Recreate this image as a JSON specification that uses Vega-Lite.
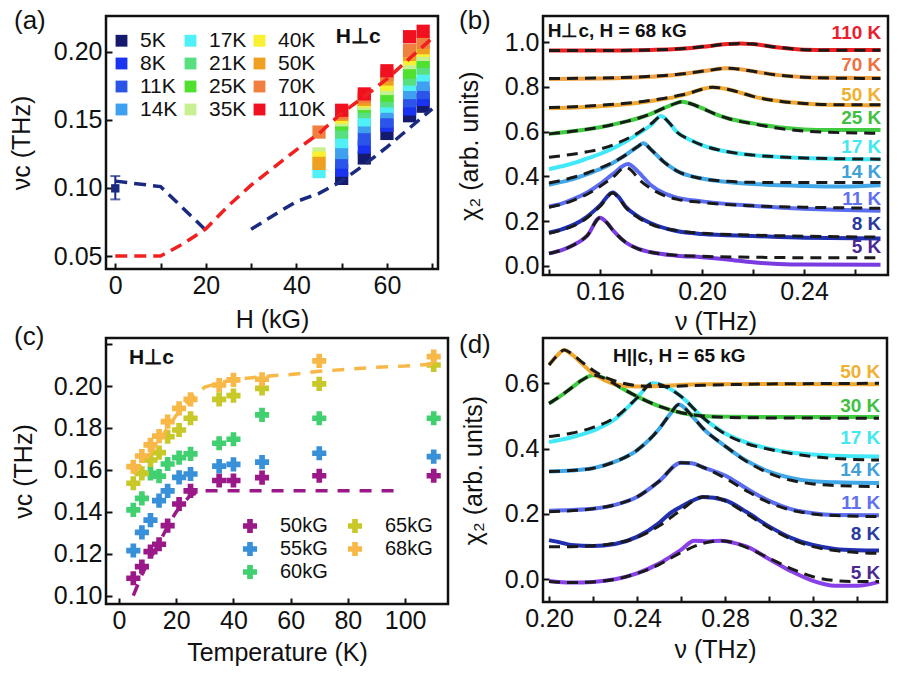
{
"$schema":"https://vega.github.io/schema/vega-lite/v6.json",
"background":"white",
"padding":{"left":8,"top":6,"right":5,"bottom":5},
"config":{
 "font":"Liberation Sans",
 "view":{"stroke":"#111","strokeWidth":2.5},
 "axis":{"domain":false,"grid":false,"labelFontSize":25,"titleFontSize":25,"titleFontWeight":"normal","labelColor":"#111","titleColor":"#111","tickColor":"#111","tickWidth":2,"tickSize":6,"offset":-6,"labelPadding":4,"labelFlush":false,"labelOverlap":false,"zindex":1},
 "axisX":{"titlePadding":9},
 "axisY":{"titlePadding":19},
 "legend":{"labelFontSize":21,"labelColor":"#111","symbolStrokeWidth":0},
 "title":{"fontSize":26,"fontWeight":"normal","anchor":"start","frame":"group","offset":0,"baseline":"alphabetic","color":"#111"}
},
"datasets":{
 "a_sq":[
  {"H":45,"T":"17K","v":0.112},{"H":45,"T":"35K","v":0.125},{"H":45,"T":"40K","v":0.122},{"H":45,"T":"50K","v":0.118},{"H":45,"T":"70K","v":0.141},
  {"H":50,"T":"5K","v":0.107},{"H":50,"T":"8K","v":0.113},{"H":50,"T":"11K","v":0.119},{"H":50,"T":"14K","v":0.126},{"H":50,"T":"17K","v":0.134},{"H":50,"T":"21K","v":0.141},{"H":50,"T":"25K","v":0.147},{"H":50,"T":"35K","v":0.150},{"H":50,"T":"40K","v":0.152},{"H":50,"T":"50K","v":0.154},{"H":50,"T":"70K","v":0.155},{"H":50,"T":"110K","v":0.157},
  {"H":55,"T":"5K","v":0.122},{"H":55,"T":"8K","v":0.130},{"H":55,"T":"11K","v":0.136},{"H":55,"T":"14K","v":0.145},{"H":55,"T":"17K","v":0.150},{"H":55,"T":"21K","v":0.156},{"H":55,"T":"25K","v":0.160},{"H":55,"T":"35K","v":0.162},{"H":55,"T":"40K","v":0.164},{"H":55,"T":"50K","v":0.165},{"H":55,"T":"70K","v":0.167},{"H":55,"T":"110K","v":0.169},
  {"H":60,"T":"5K","v":0.140},{"H":60,"T":"8K","v":0.146},{"H":60,"T":"11K","v":0.149},{"H":60,"T":"14K","v":0.156},{"H":60,"T":"17K","v":0.160},{"H":60,"T":"21K","v":0.164},{"H":60,"T":"25K","v":0.168},{"H":60,"T":"35K","v":0.173},{"H":60,"T":"40K","v":0.176},{"H":60,"T":"50K","v":0.180},{"H":60,"T":"70K","v":0.183},{"H":60,"T":"110K","v":0.186},
  {"H":65,"T":"5K","v":0.153},{"H":65,"T":"8K","v":0.158},{"H":65,"T":"11K","v":0.164},{"H":65,"T":"14K","v":0.170},{"H":65,"T":"17K","v":0.176},{"H":65,"T":"21K","v":0.180},{"H":65,"T":"25K","v":0.185},{"H":65,"T":"35K","v":0.192},{"H":65,"T":"40K","v":0.195},{"H":65,"T":"50K","v":0.198},{"H":65,"T":"70K","v":0.201},{"H":65,"T":"110K","v":0.211},
  {"H":68,"T":"5K","v":0.160},{"H":68,"T":"8K","v":0.165},{"H":68,"T":"11K","v":0.170},{"H":68,"T":"14K","v":0.176},{"H":68,"T":"17K","v":0.183},{"H":68,"T":"21K","v":0.188},{"H":68,"T":"25K","v":0.193},{"H":68,"T":"35K","v":0.198},{"H":68,"T":"40K","v":0.201},{"H":68,"T":"50K","v":0.203},{"H":68,"T":"70K","v":0.207},{"H":68,"T":"110K","v":0.215}
 ],
 "a_lines":[
  {"line":"red","H":0,"v":0.05},{"line":"red","H":10,"v":0.05},{"line":"red","H":15,"v":0.059},{"line":"red","H":20,"v":0.070},{"line":"red","H":25,"v":0.087},{"line":"red","H":30,"v":0.102},{"line":"red","H":35,"v":0.115},{"line":"red","H":40,"v":0.128},{"line":"red","H":45,"v":0.140},{"line":"red","H":50,"v":0.155},{"line":"red","H":55,"v":0.167},{"line":"red","H":60,"v":0.180},{"line":"red","H":65,"v":0.195},{"line":"red","H":70,"v":0.210},
  {"line":"navy1","H":0,"v":0.105},{"line":"navy1","H":10,"v":0.101},{"line":"navy1","H":20,"v":0.069},
  {"line":"navy2","H":30,"v":0.0696},{"line":"navy2","H":35,"v":0.080},{"line":"navy2","H":40,"v":0.090},{"line":"navy2","H":45,"v":0.096},{"line":"navy2","H":50,"v":0.105},{"line":"navy2","H":55,"v":0.117},{"line":"navy2","H":60,"v":0.130},{"line":"navy2","H":65,"v":0.144},{"line":"navy2","H":70,"v":0.158}
 ],
 "a_err":[{"H":0,"v":0.0997,"lo":0.0916,"hi":0.1087}],
 "b_lines":[
  {"T":"5 K","k":"f","nu":0.14,"y":0.055},{"T":"5 K","k":"f","nu":0.145,"y":0.07},{"T":"5 K","k":"f","nu":0.15,"y":0.095},{"T":"5 K","k":"f","nu":0.155,"y":0.135},{"T":"5 K","k":"f","nu":0.16,"y":0.215},{"T":"5 K","k":"f","nu":0.1625,"y":0.195},{"T":"5 K","k":"f","nu":0.165,"y":0.16},{"T":"5 K","k":"f","nu":0.17,"y":0.105},{"T":"5 K","k":"f","nu":0.175,"y":0.075},{"T":"5 K","k":"f","nu":0.18,"y":0.06},{"T":"5 K","k":"f","nu":0.19,"y":0.047},{"T":"5 K","k":"f","nu":0.20,"y":0.042},{"T":"5 K","k":"f","nu":0.22,"y":0.038},{"T":"5 K","k":"f","nu":0.24,"y":0.036},{"T":"5 K","k":"f","nu":0.27,"y":0.036},
  {"T":"5 K","k":"d","nu":0.14,"y":0.055},{"T":"5 K","k":"d","nu":0.145,"y":0.07},{"T":"5 K","k":"d","nu":0.15,"y":0.095},{"T":"5 K","k":"d","nu":0.155,"y":0.135},{"T":"5 K","k":"d","nu":0.16,"y":0.215},{"T":"5 K","k":"d","nu":0.1625,"y":0.195},{"T":"5 K","k":"d","nu":0.165,"y":0.16},{"T":"5 K","k":"d","nu":0.17,"y":0.105},{"T":"5 K","k":"d","nu":0.175,"y":0.075},{"T":"5 K","k":"d","nu":0.18,"y":0.06},{"T":"5 K","k":"d","nu":0.19,"y":0.045},{"T":"5 K","k":"d","nu":0.20,"y":0.038},{"T":"5 K","k":"d","nu":0.21,"y":0.028},{"T":"5 K","k":"d","nu":0.22,"y":0.015},{"T":"5 K","k":"d","nu":0.23,"y":0.008},{"T":"5 K","k":"d","nu":0.24,"y":0.005},{"T":"5 K","k":"d","nu":0.27,"y":0.004},
  {"T":"8 K","k":"f","nu":0.14,"y":0.145},{"T":"8 K","k":"f","nu":0.145,"y":0.16},{"T":"8 K","k":"f","nu":0.15,"y":0.18},{"T":"8 K","k":"f","nu":0.155,"y":0.215},{"T":"8 K","k":"f","nu":0.16,"y":0.265},{"T":"8 K","k":"f","nu":0.165,"y":0.325},{"T":"8 K","k":"f","nu":0.1675,"y":0.3},{"T":"8 K","k":"f","nu":0.17,"y":0.262},{"T":"8 K","k":"f","nu":0.175,"y":0.215},{"T":"8 K","k":"f","nu":0.18,"y":0.185},{"T":"8 K","k":"f","nu":0.19,"y":0.157},{"T":"8 K","k":"f","nu":0.20,"y":0.145},{"T":"8 K","k":"f","nu":0.22,"y":0.137},{"T":"8 K","k":"f","nu":0.24,"y":0.132},{"T":"8 K","k":"f","nu":0.27,"y":0.128},
  {"T":"8 K","k":"d","nu":0.14,"y":0.148},{"T":"8 K","k":"d","nu":0.145,"y":0.163},{"T":"8 K","k":"d","nu":0.15,"y":0.185},{"T":"8 K","k":"d","nu":0.155,"y":0.22},{"T":"8 K","k":"d","nu":0.16,"y":0.27},{"T":"8 K","k":"d","nu":0.165,"y":0.328},{"T":"8 K","k":"d","nu":0.1675,"y":0.305},{"T":"8 K","k":"d","nu":0.17,"y":0.265},{"T":"8 K","k":"d","nu":0.175,"y":0.22},{"T":"8 K","k":"d","nu":0.18,"y":0.19},{"T":"8 K","k":"d","nu":0.19,"y":0.155},{"T":"8 K","k":"d","nu":0.20,"y":0.142},{"T":"8 K","k":"d","nu":0.22,"y":0.133},{"T":"8 K","k":"d","nu":0.24,"y":0.125},{"T":"8 K","k":"d","nu":0.27,"y":0.122},
  {"T":"11 K","k":"f","nu":0.14,"y":0.262},{"T":"11 K","k":"f","nu":0.145,"y":0.275},{"T":"11 K","k":"f","nu":0.15,"y":0.295},{"T":"11 K","k":"f","nu":0.155,"y":0.32},{"T":"11 K","k":"f","nu":0.16,"y":0.355},{"T":"11 K","k":"f","nu":0.165,"y":0.395},{"T":"11 K","k":"f","nu":0.17,"y":0.44},{"T":"11 K","k":"f","nu":0.1725,"y":0.425},{"T":"11 K","k":"f","nu":0.175,"y":0.39},{"T":"11 K","k":"f","nu":0.18,"y":0.345},{"T":"11 K","k":"f","nu":0.185,"y":0.315},{"T":"11 K","k":"f","nu":0.19,"y":0.298},{"T":"11 K","k":"f","nu":0.20,"y":0.283},{"T":"11 K","k":"f","nu":0.22,"y":0.268},{"T":"11 K","k":"f","nu":0.24,"y":0.262},{"T":"11 K","k":"f","nu":0.27,"y":0.257},
  {"T":"11 K","k":"d","nu":0.14,"y":0.265},{"T":"11 K","k":"d","nu":0.145,"y":0.278},{"T":"11 K","k":"d","nu":0.15,"y":0.3},{"T":"11 K","k":"d","nu":0.155,"y":0.328},{"T":"11 K","k":"d","nu":0.16,"y":0.365},{"T":"11 K","k":"d","nu":0.165,"y":0.41},{"T":"11 K","k":"d","nu":0.171,"y":0.455},{"T":"11 K","k":"d","nu":0.175,"y":0.42},{"T":"11 K","k":"d","nu":0.18,"y":0.36},{"T":"11 K","k":"d","nu":0.185,"y":0.325},{"T":"11 K","k":"d","nu":0.19,"y":0.305},{"T":"11 K","k":"d","nu":0.20,"y":0.288},{"T":"11 K","k":"d","nu":0.22,"y":0.268},{"T":"11 K","k":"d","nu":0.24,"y":0.255},{"T":"11 K","k":"d","nu":0.27,"y":0.246},
  {"T":"14 K","k":"f","nu":0.14,"y":0.37},{"T":"14 K","k":"f","nu":0.145,"y":0.382},{"T":"14 K","k":"f","nu":0.15,"y":0.397},{"T":"14 K","k":"f","nu":0.155,"y":0.415},{"T":"14 K","k":"f","nu":0.16,"y":0.437},{"T":"14 K","k":"f","nu":0.165,"y":0.462},{"T":"14 K","k":"f","nu":0.17,"y":0.495},{"T":"14 K","k":"f","nu":0.175,"y":0.535},{"T":"14 K","k":"f","nu":0.177,"y":0.548},{"T":"14 K","k":"f","nu":0.18,"y":0.52},{"T":"14 K","k":"f","nu":0.185,"y":0.465},{"T":"14 K","k":"f","nu":0.19,"y":0.425},{"T":"14 K","k":"f","nu":0.20,"y":0.39},{"T":"14 K","k":"f","nu":0.21,"y":0.378},{"T":"14 K","k":"f","nu":0.22,"y":0.373},{"T":"14 K","k":"f","nu":0.24,"y":0.372},{"T":"14 K","k":"f","nu":0.27,"y":0.372},
  {"T":"14 K","k":"d","nu":0.14,"y":0.362},{"T":"14 K","k":"d","nu":0.145,"y":0.375},{"T":"14 K","k":"d","nu":0.15,"y":0.39},{"T":"14 K","k":"d","nu":0.155,"y":0.41},{"T":"14 K","k":"d","nu":0.16,"y":0.432},{"T":"14 K","k":"d","nu":0.165,"y":0.46},{"T":"14 K","k":"d","nu":0.17,"y":0.495},{"T":"14 K","k":"d","nu":0.175,"y":0.535},{"T":"14 K","k":"d","nu":0.177,"y":0.548},{"T":"14 K","k":"d","nu":0.18,"y":0.52},{"T":"14 K","k":"d","nu":0.185,"y":0.465},{"T":"14 K","k":"d","nu":0.19,"y":0.425},{"T":"14 K","k":"d","nu":0.20,"y":0.39},{"T":"14 K","k":"d","nu":0.21,"y":0.375},{"T":"14 K","k":"d","nu":0.22,"y":0.366},{"T":"14 K","k":"d","nu":0.24,"y":0.357},{"T":"14 K","k":"d","nu":0.255,"y":0.354},{"T":"14 K","k":"d","nu":0.27,"y":0.36},
  {"T":"17 K","k":"f","nu":0.14,"y":0.485},{"T":"17 K","k":"f","nu":0.145,"y":0.492},{"T":"17 K","k":"f","nu":0.15,"y":0.5},{"T":"17 K","k":"f","nu":0.155,"y":0.51},{"T":"17 K","k":"f","nu":0.16,"y":0.522},{"T":"17 K","k":"f","nu":0.165,"y":0.54},{"T":"17 K","k":"f","nu":0.17,"y":0.565},{"T":"17 K","k":"f","nu":0.175,"y":0.595},{"T":"17 K","k":"f","nu":0.18,"y":0.635},{"T":"17 K","k":"f","nu":0.184,"y":0.668},{"T":"17 K","k":"f","nu":0.1875,"y":0.635},{"T":"17 K","k":"f","nu":0.19,"y":0.6},{"T":"17 K","k":"f","nu":0.195,"y":0.565},{"T":"17 K","k":"f","nu":0.20,"y":0.54},{"T":"17 K","k":"f","nu":0.21,"y":0.51},{"T":"17 K","k":"f","nu":0.22,"y":0.495},{"T":"17 K","k":"f","nu":0.23,"y":0.487},{"T":"17 K","k":"f","nu":0.24,"y":0.482},{"T":"17 K","k":"f","nu":0.27,"y":0.477},
  {"T":"17 K","k":"d","nu":0.14,"y":0.432},{"T":"17 K","k":"d","nu":0.145,"y":0.445},{"T":"17 K","k":"d","nu":0.15,"y":0.46},{"T":"17 K","k":"d","nu":0.155,"y":0.48},{"T":"17 K","k":"d","nu":0.16,"y":0.5},{"T":"17 K","k":"d","nu":0.165,"y":0.525},{"T":"17 K","k":"d","nu":0.17,"y":0.555},{"T":"17 K","k":"d","nu":0.175,"y":0.59},{"T":"17 K","k":"d","nu":0.18,"y":0.63},{"T":"17 K","k":"d","nu":0.184,"y":0.67},{"T":"17 K","k":"d","nu":0.1875,"y":0.635},{"T":"17 K","k":"d","nu":0.19,"y":0.6},{"T":"17 K","k":"d","nu":0.195,"y":0.565},{"T":"17 K","k":"d","nu":0.20,"y":0.54},{"T":"17 K","k":"d","nu":0.21,"y":0.51},{"T":"17 K","k":"d","nu":0.22,"y":0.495},{"T":"17 K","k":"d","nu":0.23,"y":0.487},{"T":"17 K","k":"d","nu":0.24,"y":0.482},{"T":"17 K","k":"d","nu":0.27,"y":0.476},
  {"T":"25 K","k":"f","nu":0.14,"y":0.59},{"T":"25 K","k":"f","nu":0.15,"y":0.603},{"T":"25 K","k":"f","nu":0.16,"y":0.62},{"T":"25 K","k":"f","nu":0.17,"y":0.645},{"T":"25 K","k":"f","nu":0.175,"y":0.66},{"T":"25 K","k":"f","nu":0.18,"y":0.68},{"T":"25 K","k":"f","nu":0.185,"y":0.705},{"T":"25 K","k":"f","nu":0.19,"y":0.728},{"T":"25 K","k":"f","nu":0.192,"y":0.734},{"T":"25 K","k":"f","nu":0.195,"y":0.727},{"T":"25 K","k":"f","nu":0.20,"y":0.705},{"T":"25 K","k":"f","nu":0.205,"y":0.68},{"T":"25 K","k":"f","nu":0.21,"y":0.66},{"T":"25 K","k":"f","nu":0.22,"y":0.635},{"T":"25 K","k":"f","nu":0.23,"y":0.615},{"T":"25 K","k":"f","nu":0.24,"y":0.603},{"T":"25 K","k":"f","nu":0.25,"y":0.597},{"T":"25 K","k":"f","nu":0.27,"y":0.593},
  {"T":"25 K","k":"d","nu":0.14,"y":0.59},{"T":"25 K","k":"d","nu":0.15,"y":0.603},{"T":"25 K","k":"d","nu":0.16,"y":0.62},{"T":"25 K","k":"d","nu":0.17,"y":0.645},{"T":"25 K","k":"d","nu":0.175,"y":0.66},{"T":"25 K","k":"d","nu":0.18,"y":0.68},{"T":"25 K","k":"d","nu":0.185,"y":0.705},{"T":"25 K","k":"d","nu":0.19,"y":0.728},{"T":"25 K","k":"d","nu":0.192,"y":0.734},{"T":"25 K","k":"d","nu":0.195,"y":0.727},{"T":"25 K","k":"d","nu":0.20,"y":0.705},{"T":"25 K","k":"d","nu":0.205,"y":0.68},{"T":"25 K","k":"d","nu":0.21,"y":0.66},{"T":"25 K","k":"d","nu":0.22,"y":0.637},{"T":"25 K","k":"d","nu":0.23,"y":0.62},{"T":"25 K","k":"d","nu":0.24,"y":0.61},{"T":"25 K","k":"d","nu":0.25,"y":0.607},{"T":"25 K","k":"d","nu":0.27,"y":0.607},
  {"T":"50 K","k":"f","nu":0.14,"y":0.708},{"T":"50 K","k":"f","nu":0.15,"y":0.712},{"T":"50 K","k":"f","nu":0.16,"y":0.718},{"T":"50 K","k":"f","nu":0.17,"y":0.727},{"T":"50 K","k":"f","nu":0.18,"y":0.74},{"T":"50 K","k":"f","nu":0.19,"y":0.76},{"T":"50 K","k":"f","nu":0.195,"y":0.772},{"T":"50 K","k":"f","nu":0.20,"y":0.79},{"T":"50 K","k":"f","nu":0.204,"y":0.799},{"T":"50 K","k":"f","nu":0.21,"y":0.79},{"T":"50 K","k":"f","nu":0.215,"y":0.775},{"T":"50 K","k":"f","nu":0.22,"y":0.758},{"T":"50 K","k":"f","nu":0.23,"y":0.737},{"T":"50 K","k":"f","nu":0.24,"y":0.726},{"T":"50 K","k":"f","nu":0.25,"y":0.721},{"T":"50 K","k":"f","nu":0.27,"y":0.72},
  {"T":"50 K","k":"d","nu":0.14,"y":0.705},{"T":"50 K","k":"d","nu":0.15,"y":0.708},{"T":"50 K","k":"d","nu":0.16,"y":0.714},{"T":"50 K","k":"d","nu":0.17,"y":0.723},{"T":"50 K","k":"d","nu":0.18,"y":0.737},{"T":"50 K","k":"d","nu":0.19,"y":0.757},{"T":"50 K","k":"d","nu":0.195,"y":0.772},{"T":"50 K","k":"d","nu":0.20,"y":0.79},{"T":"50 K","k":"d","nu":0.204,"y":0.799},{"T":"50 K","k":"d","nu":0.21,"y":0.79},{"T":"50 K","k":"d","nu":0.215,"y":0.775},{"T":"50 K","k":"d","nu":0.22,"y":0.758},{"T":"50 K","k":"d","nu":0.23,"y":0.737},{"T":"50 K","k":"d","nu":0.24,"y":0.726},{"T":"50 K","k":"d","nu":0.25,"y":0.72},{"T":"50 K","k":"d","nu":0.27,"y":0.718},
  {"T":"70 K","k":"f","nu":0.14,"y":0.838},{"T":"70 K","k":"f","nu":0.16,"y":0.84},{"T":"70 K","k":"f","nu":0.18,"y":0.848},{"T":"70 K","k":"f","nu":0.19,"y":0.856},{"T":"70 K","k":"f","nu":0.20,"y":0.87},{"T":"70 K","k":"f","nu":0.205,"y":0.878},{"T":"70 K","k":"f","nu":0.209,"y":0.884},{"T":"70 K","k":"f","nu":0.215,"y":0.879},{"T":"70 K","k":"f","nu":0.22,"y":0.87},{"T":"70 K","k":"f","nu":0.23,"y":0.853},{"T":"70 K","k":"f","nu":0.24,"y":0.844},{"T":"70 K","k":"f","nu":0.25,"y":0.84},{"T":"70 K","k":"f","nu":0.27,"y":0.838},
  {"T":"70 K","k":"d","nu":0.14,"y":0.836},{"T":"70 K","k":"d","nu":0.16,"y":0.838},{"T":"70 K","k":"d","nu":0.18,"y":0.846},{"T":"70 K","k":"d","nu":0.19,"y":0.855},{"T":"70 K","k":"d","nu":0.20,"y":0.87},{"T":"70 K","k":"d","nu":0.205,"y":0.878},{"T":"70 K","k":"d","nu":0.209,"y":0.884},{"T":"70 K","k":"d","nu":0.215,"y":0.879},{"T":"70 K","k":"d","nu":0.22,"y":0.87},{"T":"70 K","k":"d","nu":0.23,"y":0.853},{"T":"70 K","k":"d","nu":0.24,"y":0.844},{"T":"70 K","k":"d","nu":0.25,"y":0.841},{"T":"70 K","k":"d","nu":0.27,"y":0.84},
  {"T":"110 K","k":"f","nu":0.14,"y":0.963},{"T":"110 K","k":"f","nu":0.16,"y":0.963},{"T":"110 K","k":"f","nu":0.18,"y":0.966},{"T":"110 K","k":"f","nu":0.19,"y":0.97},{"T":"110 K","k":"f","nu":0.20,"y":0.98},{"T":"110 K","k":"f","nu":0.21,"y":0.992},{"T":"110 K","k":"f","nu":0.215,"y":0.995},{"T":"110 K","k":"f","nu":0.22,"y":0.992},{"T":"110 K","k":"f","nu":0.23,"y":0.977},{"T":"110 K","k":"f","nu":0.24,"y":0.967},{"T":"110 K","k":"f","nu":0.25,"y":0.964},{"T":"110 K","k":"f","nu":0.27,"y":0.964},
  {"T":"110 K","k":"d","nu":0.14,"y":0.963},{"T":"110 K","k":"d","nu":0.16,"y":0.963},{"T":"110 K","k":"d","nu":0.18,"y":0.966},{"T":"110 K","k":"d","nu":0.19,"y":0.97},{"T":"110 K","k":"d","nu":0.20,"y":0.98},{"T":"110 K","k":"d","nu":0.21,"y":0.992},{"T":"110 K","k":"d","nu":0.215,"y":0.995},{"T":"110 K","k":"d","nu":0.22,"y":0.992},{"T":"110 K","k":"d","nu":0.23,"y":0.977},{"T":"110 K","k":"d","nu":0.24,"y":0.967},{"T":"110 K","k":"d","nu":0.25,"y":0.965},{"T":"110 K","k":"d","nu":0.27,"y":0.966}
 ],
 "b_labels":[
  {"T":"110 K","nu":0.2703,"y":1.04},{"T":"70 K","nu":0.2703,"y":0.899},{"T":"50 K","nu":0.2703,"y":0.764},{"T":"25 K","nu":0.2703,"y":0.66},{"T":"17 K","nu":0.2703,"y":0.533},{"T":"14 K","nu":0.2703,"y":0.42},{"T":"11 K","nu":0.2703,"y":0.297},{"T":"8 K","nu":0.2703,"y":0.187},{"T":"5 K","nu":0.2703,"y":0.085}
 ],
 "c_pts":[
  {"B":"50kG","T":5,"v":0.1083},{"B":"50kG","T":8,"v":0.1138},{"B":"50kG","T":11,"v":0.121},{"B":"50kG","T":14,"v":0.1245},{"B":"50kG","T":17,"v":0.1334},{"B":"50kG","T":21,"v":0.1437},{"B":"50kG","T":25,"v":0.150},{"B":"50kG","T":35,"v":0.1549},{"B":"50kG","T":40,"v":0.1549},{"B":"50kG","T":50,"v":0.1563},{"B":"50kG","T":70,"v":0.1572},{"B":"50kG","T":110,"v":0.1572},
  {"B":"55kG","T":5,"v":0.1215},{"B":"55kG","T":8,"v":0.1302},{"B":"55kG","T":11,"v":0.136},{"B":"55kG","T":14,"v":0.1453},{"B":"55kG","T":17,"v":0.150},{"B":"55kG","T":21,"v":0.1564},{"B":"55kG","T":25,"v":0.158},{"B":"55kG","T":35,"v":0.1618},{"B":"55kG","T":40,"v":0.1626},{"B":"55kG","T":50,"v":0.1637},{"B":"55kG","T":70,"v":0.1679},{"B":"55kG","T":110,"v":0.1663},
  {"B":"60kG","T":5,"v":0.1409},{"B":"60kG","T":8,"v":0.1464},{"B":"60kG","T":11,"v":0.1583},{"B":"60kG","T":14,"v":0.157},{"B":"60kG","T":17,"v":0.1628},{"B":"60kG","T":21,"v":0.1658},{"B":"60kG","T":25,"v":0.1676},{"B":"60kG","T":35,"v":0.1727},{"B":"60kG","T":40,"v":0.1746},{"B":"60kG","T":50,"v":0.1862},{"B":"60kG","T":70,"v":0.1846},{"B":"60kG","T":110,"v":0.1846},
  {"B":"65kG","T":5,"v":0.1536},{"B":"65kG","T":8,"v":0.1583},{"B":"65kG","T":11,"v":0.1647},{"B":"65kG","T":14,"v":0.1682},{"B":"65kG","T":17,"v":0.1758},{"B":"65kG","T":21,"v":0.179},{"B":"65kG","T":25,"v":0.1846},{"B":"65kG","T":35,"v":0.1936},{"B":"65kG","T":40,"v":0.1954},{"B":"65kG","T":50,"v":0.1989},{"B":"65kG","T":70,"v":0.201},{"B":"65kG","T":110,"v":0.210},
  {"B":"68kG","T":5,"v":0.1615},{"B":"68kG","T":8,"v":0.1666},{"B":"68kG","T":11,"v":0.1719},{"B":"68kG","T":14,"v":0.1761},{"B":"68kG","T":17,"v":0.183},{"B":"68kG","T":21,"v":0.1893},{"B":"68kG","T":25,"v":0.1936},{"B":"68kG","T":35,"v":0.2005},{"B":"68kG","T":40,"v":0.2029},{"B":"68kG","T":50,"v":0.2032},{"B":"68kG","T":70,"v":0.212},{"B":"68kG","T":110,"v":0.214}
 ],
 "c_lines":[
  {"line":"68","T":5,"v":0.158},{"line":"68","T":8,"v":0.163},{"line":"68","T":11,"v":0.168},{"line":"68","T":14,"v":0.174},{"line":"68","T":17,"v":0.18},{"line":"68","T":20,"v":0.186},{"line":"68","T":25,"v":0.194},{"line":"68","T":30,"v":0.1995},{"line":"68","T":35,"v":0.2015},{"line":"68","T":40,"v":0.203},{"line":"68","T":50,"v":0.2045},{"line":"68","T":60,"v":0.2055},{"line":"68","T":70,"v":0.207},{"line":"68","T":80,"v":0.208},{"line":"68","T":90,"v":0.209},{"line":"68","T":100,"v":0.2095},{"line":"68","T":111,"v":0.2105},
  {"line":"50","T":5,"v":0.100},{"line":"50","T":8,"v":0.110},{"line":"50","T":11,"v":0.118},{"line":"50","T":14,"v":0.125},{"line":"50","T":17,"v":0.133},{"line":"50","T":20,"v":0.140},{"line":"50","T":25,"v":0.148},{"line":"50","T":30,"v":0.150},{"line":"50","T":97,"v":0.150}
 ],
 "d_lines":[
  {"T":"5 K","k":"f","nu":0.2,"y":-0.007},{"T":"5 K","k":"f","nu":0.21,"y":-0.01},{"T":"5 K","k":"f","nu":0.22,"y":-0.008},{"T":"5 K","k":"f","nu":0.23,"y":0.0},{"T":"5 K","k":"f","nu":0.24,"y":0.018},{"T":"5 K","k":"f","nu":0.25,"y":0.045},{"T":"5 K","k":"f","nu":0.26,"y":0.082},{"T":"5 K","k":"f","nu":0.27,"y":0.11},{"T":"5 K","k":"f","nu":0.278,"y":0.118},{"T":"5 K","k":"f","nu":0.285,"y":0.11},{"T":"5 K","k":"f","nu":0.29,"y":0.097},{"T":"5 K","k":"f","nu":0.30,"y":0.065},{"T":"5 K","k":"f","nu":0.31,"y":0.033},{"T":"5 K","k":"f","nu":0.32,"y":0.008},{"T":"5 K","k":"f","nu":0.33,"y":-0.004},{"T":"5 K","k":"f","nu":0.34,"y":-0.007},{"T":"5 K","k":"f","nu":0.35,"y":-0.007},
  {"T":"5 K","k":"d","nu":0.2,"y":-0.005},{"T":"5 K","k":"d","nu":0.21,"y":-0.01},{"T":"5 K","k":"d","nu":0.22,"y":-0.008},{"T":"5 K","k":"d","nu":0.23,"y":0.0},{"T":"5 K","k":"d","nu":0.24,"y":0.018},{"T":"5 K","k":"d","nu":0.25,"y":0.048},{"T":"5 K","k":"d","nu":0.26,"y":0.09},{"T":"5 K","k":"d","nu":0.266,"y":0.118},{"T":"5 K","k":"d","nu":0.272,"y":0.116},{"T":"5 K","k":"d","nu":0.278,"y":0.118},{"T":"5 K","k":"d","nu":0.285,"y":0.11},{"T":"5 K","k":"d","nu":0.29,"y":0.1},{"T":"5 K","k":"d","nu":0.30,"y":0.062},{"T":"5 K","k":"d","nu":0.31,"y":0.025},{"T":"5 K","k":"d","nu":0.32,"y":-0.005},{"T":"5 K","k":"d","nu":0.33,"y":-0.02},{"T":"5 K","k":"d","nu":0.34,"y":-0.02},{"T":"5 K","k":"d","nu":0.35,"y":-0.008},
  {"T":"8 K","k":"f","nu":0.2,"y":0.1},{"T":"8 K","k":"f","nu":0.21,"y":0.1},{"T":"8 K","k":"f","nu":0.22,"y":0.103},{"T":"8 K","k":"f","nu":0.23,"y":0.11},{"T":"8 K","k":"f","nu":0.24,"y":0.128},{"T":"8 K","k":"f","nu":0.25,"y":0.163},{"T":"8 K","k":"f","nu":0.26,"y":0.212},{"T":"8 K","k":"f","nu":0.27,"y":0.252},{"T":"8 K","k":"f","nu":0.275,"y":0.252},{"T":"8 K","k":"f","nu":0.28,"y":0.24},{"T":"8 K","k":"f","nu":0.29,"y":0.2},{"T":"8 K","k":"f","nu":0.30,"y":0.158},{"T":"8 K","k":"f","nu":0.31,"y":0.123},{"T":"8 K","k":"f","nu":0.32,"y":0.1},{"T":"8 K","k":"f","nu":0.33,"y":0.088},{"T":"8 K","k":"f","nu":0.34,"y":0.082},{"T":"8 K","k":"f","nu":0.35,"y":0.08},
  {"T":"8 K","k":"d","nu":0.2,"y":0.12},{"T":"8 K","k":"d","nu":0.205,"y":0.113},{"T":"8 K","k":"d","nu":0.21,"y":0.105},{"T":"8 K","k":"d","nu":0.22,"y":0.102},{"T":"8 K","k":"d","nu":0.23,"y":0.108},{"T":"8 K","k":"d","nu":0.24,"y":0.13},{"T":"8 K","k":"d","nu":0.25,"y":0.172},{"T":"8 K","k":"d","nu":0.255,"y":0.202},{"T":"8 K","k":"d","nu":0.26,"y":0.222},{"T":"8 K","k":"d","nu":0.265,"y":0.24},{"T":"8 K","k":"d","nu":0.27,"y":0.252},{"T":"8 K","k":"d","nu":0.28,"y":0.242},{"T":"8 K","k":"d","nu":0.29,"y":0.205},{"T":"8 K","k":"d","nu":0.30,"y":0.162},{"T":"8 K","k":"d","nu":0.31,"y":0.127},{"T":"8 K","k":"d","nu":0.32,"y":0.105},{"T":"8 K","k":"d","nu":0.33,"y":0.093},{"T":"8 K","k":"d","nu":0.34,"y":0.089},{"T":"8 K","k":"d","nu":0.35,"y":0.088},
  {"T":"11 K","k":"f","nu":0.2,"y":0.207},{"T":"11 K","k":"f","nu":0.21,"y":0.21},{"T":"11 K","k":"f","nu":0.22,"y":0.216},{"T":"11 K","k":"f","nu":0.23,"y":0.228},{"T":"11 K","k":"f","nu":0.24,"y":0.252},{"T":"11 K","k":"f","nu":0.25,"y":0.3},{"T":"11 K","k":"f","nu":0.26,"y":0.357},{"T":"11 K","k":"f","nu":0.265,"y":0.355},{"T":"11 K","k":"f","nu":0.27,"y":0.343},{"T":"11 K","k":"f","nu":0.28,"y":0.31},{"T":"11 K","k":"f","nu":0.29,"y":0.27},{"T":"11 K","k":"f","nu":0.30,"y":0.235},{"T":"11 K","k":"f","nu":0.31,"y":0.212},{"T":"11 K","k":"f","nu":0.32,"y":0.2},{"T":"11 K","k":"f","nu":0.33,"y":0.195},{"T":"11 K","k":"f","nu":0.35,"y":0.192},
  {"T":"11 K","k":"d","nu":0.2,"y":0.21},{"T":"11 K","k":"d","nu":0.21,"y":0.212},{"T":"11 K","k":"d","nu":0.22,"y":0.216},{"T":"11 K","k":"d","nu":0.23,"y":0.228},{"T":"11 K","k":"d","nu":0.24,"y":0.252},{"T":"11 K","k":"d","nu":0.25,"y":0.3},{"T":"11 K","k":"d","nu":0.26,"y":0.357},{"T":"11 K","k":"d","nu":0.265,"y":0.355},{"T":"11 K","k":"d","nu":0.27,"y":0.343},{"T":"11 K","k":"d","nu":0.28,"y":0.318},{"T":"11 K","k":"d","nu":0.29,"y":0.277},{"T":"11 K","k":"d","nu":0.30,"y":0.24},{"T":"11 K","k":"d","nu":0.31,"y":0.215},{"T":"11 K","k":"d","nu":0.32,"y":0.202},{"T":"11 K","k":"d","nu":0.33,"y":0.197},{"T":"11 K","k":"d","nu":0.35,"y":0.196},
  {"T":"14 K","k":"f","nu":0.2,"y":0.33},{"T":"14 K","k":"f","nu":0.21,"y":0.333},{"T":"14 K","k":"f","nu":0.22,"y":0.34},{"T":"14 K","k":"f","nu":0.23,"y":0.36},{"T":"14 K","k":"f","nu":0.24,"y":0.395},{"T":"14 K","k":"f","nu":0.25,"y":0.46},{"T":"14 K","k":"f","nu":0.255,"y":0.505},{"T":"14 K","k":"f","nu":0.259,"y":0.535},{"T":"14 K","k":"f","nu":0.265,"y":0.5},{"T":"14 K","k":"f","nu":0.27,"y":0.462},{"T":"14 K","k":"f","nu":0.28,"y":0.408},{"T":"14 K","k":"f","nu":0.29,"y":0.36},{"T":"14 K","k":"f","nu":0.30,"y":0.325},{"T":"14 K","k":"f","nu":0.31,"y":0.303},{"T":"14 K","k":"f","nu":0.32,"y":0.292},{"T":"14 K","k":"f","nu":0.33,"y":0.287},{"T":"14 K","k":"f","nu":0.35,"y":0.284},
  {"T":"14 K","k":"d","nu":0.2,"y":0.33},{"T":"14 K","k":"d","nu":0.21,"y":0.333},{"T":"14 K","k":"d","nu":0.22,"y":0.34},{"T":"14 K","k":"d","nu":0.23,"y":0.36},{"T":"14 K","k":"d","nu":0.24,"y":0.395},{"T":"14 K","k":"d","nu":0.25,"y":0.46},{"T":"14 K","k":"d","nu":0.255,"y":0.505},{"T":"14 K","k":"d","nu":0.259,"y":0.535},{"T":"14 K","k":"d","nu":0.265,"y":0.5},{"T":"14 K","k":"d","nu":0.27,"y":0.462},{"T":"14 K","k":"d","nu":0.28,"y":0.408},{"T":"14 K","k":"d","nu":0.29,"y":0.362},{"T":"14 K","k":"d","nu":0.30,"y":0.33},{"T":"14 K","k":"d","nu":0.31,"y":0.31},{"T":"14 K","k":"d","nu":0.32,"y":0.3},{"T":"14 K","k":"d","nu":0.33,"y":0.297},{"T":"14 K","k":"d","nu":0.35,"y":0.295},
  {"T":"17 K","k":"f","nu":0.2,"y":0.437},{"T":"17 K","k":"f","nu":0.21,"y":0.447},{"T":"17 K","k":"f","nu":0.22,"y":0.465},{"T":"17 K","k":"f","nu":0.23,"y":0.495},{"T":"17 K","k":"f","nu":0.24,"y":0.555},{"T":"17 K","k":"f","nu":0.247,"y":0.6},{"T":"17 K","k":"f","nu":0.25,"y":0.597},{"T":"17 K","k":"f","nu":0.255,"y":0.583},{"T":"17 K","k":"f","nu":0.26,"y":0.56},{"T":"17 K","k":"f","nu":0.27,"y":0.495},{"T":"17 K","k":"f","nu":0.28,"y":0.445},{"T":"17 K","k":"f","nu":0.29,"y":0.415},{"T":"17 K","k":"f","nu":0.30,"y":0.398},{"T":"17 K","k":"f","nu":0.31,"y":0.385},{"T":"17 K","k":"f","nu":0.32,"y":0.376},{"T":"17 K","k":"f","nu":0.33,"y":0.37},{"T":"17 K","k":"f","nu":0.35,"y":0.365},
  {"T":"17 K","k":"d","nu":0.2,"y":0.42},{"T":"17 K","k":"d","nu":0.21,"y":0.434},{"T":"17 K","k":"d","nu":0.22,"y":0.455},{"T":"17 K","k":"d","nu":0.23,"y":0.49},{"T":"17 K","k":"d","nu":0.24,"y":0.555},{"T":"17 K","k":"d","nu":0.247,"y":0.6},{"T":"17 K","k":"d","nu":0.25,"y":0.597},{"T":"17 K","k":"d","nu":0.255,"y":0.583},{"T":"17 K","k":"d","nu":0.26,"y":0.56},{"T":"17 K","k":"d","nu":0.27,"y":0.495},{"T":"17 K","k":"d","nu":0.28,"y":0.447},{"T":"17 K","k":"d","nu":0.29,"y":0.418},{"T":"17 K","k":"d","nu":0.30,"y":0.4},{"T":"17 K","k":"d","nu":0.31,"y":0.388},{"T":"17 K","k":"d","nu":0.32,"y":0.382},{"T":"17 K","k":"d","nu":0.33,"y":0.378},{"T":"17 K","k":"d","nu":0.35,"y":0.376},
  {"T":"30 K","k":"f","nu":0.2,"y":0.538},{"T":"30 K","k":"f","nu":0.205,"y":0.56},{"T":"30 K","k":"f","nu":0.21,"y":0.585},{"T":"30 K","k":"f","nu":0.215,"y":0.61},{"T":"30 K","k":"f","nu":0.22,"y":0.625},{"T":"30 K","k":"f","nu":0.225,"y":0.616},{"T":"30 K","k":"f","nu":0.23,"y":0.597},{"T":"30 K","k":"f","nu":0.24,"y":0.56},{"T":"30 K","k":"f","nu":0.25,"y":0.53},{"T":"30 K","k":"f","nu":0.26,"y":0.51},{"T":"30 K","k":"f","nu":0.27,"y":0.5},{"T":"30 K","k":"f","nu":0.28,"y":0.496},{"T":"30 K","k":"f","nu":0.30,"y":0.494},{"T":"30 K","k":"f","nu":0.35,"y":0.493},
  {"T":"30 K","k":"d","nu":0.2,"y":0.538},{"T":"30 K","k":"d","nu":0.205,"y":0.56},{"T":"30 K","k":"d","nu":0.21,"y":0.585},{"T":"30 K","k":"d","nu":0.215,"y":0.61},{"T":"30 K","k":"d","nu":0.22,"y":0.625},{"T":"30 K","k":"d","nu":0.225,"y":0.616},{"T":"30 K","k":"d","nu":0.23,"y":0.597},{"T":"30 K","k":"d","nu":0.24,"y":0.56},{"T":"30 K","k":"d","nu":0.25,"y":0.53},{"T":"30 K","k":"d","nu":0.26,"y":0.51},{"T":"30 K","k":"d","nu":0.27,"y":0.5},{"T":"30 K","k":"d","nu":0.28,"y":0.498},{"T":"30 K","k":"d","nu":0.30,"y":0.497},{"T":"30 K","k":"d","nu":0.35,"y":0.497},
  {"T":"50 K","k":"f","nu":0.2,"y":0.656},{"T":"50 K","k":"f","nu":0.203,"y":0.68},{"T":"50 K","k":"f","nu":0.207,"y":0.702},{"T":"50 K","k":"f","nu":0.21,"y":0.692},{"T":"50 K","k":"f","nu":0.215,"y":0.665},{"T":"50 K","k":"f","nu":0.22,"y":0.64},{"T":"50 K","k":"f","nu":0.225,"y":0.62},{"T":"50 K","k":"f","nu":0.23,"y":0.607},{"T":"50 K","k":"f","nu":0.24,"y":0.593},{"T":"50 K","k":"f","nu":0.25,"y":0.59},{"T":"50 K","k":"f","nu":0.27,"y":0.594},{"T":"50 K","k":"f","nu":0.30,"y":0.598},{"T":"50 K","k":"f","nu":0.35,"y":0.6},
  {"T":"50 K","k":"d","nu":0.2,"y":0.656},{"T":"50 K","k":"d","nu":0.203,"y":0.68},{"T":"50 K","k":"d","nu":0.207,"y":0.702},{"T":"50 K","k":"d","nu":0.21,"y":0.69},{"T":"50 K","k":"d","nu":0.215,"y":0.66},{"T":"50 K","k":"d","nu":0.22,"y":0.63},{"T":"50 K","k":"d","nu":0.225,"y":0.61},{"T":"50 K","k":"d","nu":0.23,"y":0.597},{"T":"50 K","k":"d","nu":0.24,"y":0.59},{"T":"50 K","k":"d","nu":0.25,"y":0.592},{"T":"50 K","k":"d","nu":0.27,"y":0.597},{"T":"50 K","k":"d","nu":0.30,"y":0.598},{"T":"50 K","k":"d","nu":0.35,"y":0.597}
 ],
 "d_labels":[
  {"T":"50 K","nu":0.3506,"y":0.636},{"T":"30 K","nu":0.3506,"y":0.531},{"T":"17 K","nu":0.3506,"y":0.432},{"T":"14 K","nu":0.3506,"y":0.335},{"T":"11 K","nu":0.3506,"y":0.233},{"T":"8 K","nu":0.3506,"y":0.139},{"T":"5 K","nu":0.3506,"y":0.018}
 ]
},
"resolve":{"scale":{"color":"independent","stroke":"independent","fill":"independent"}},
"bounds":"flush",
"align":"each",
"columns":2,
"spacing":{"row":63,"column":95},
"concat":[
  {"width":332,"height":253,
   "title":{"text":"(a)","dx":-92,"dy":22},
   "layer":[
    {"data":{"name":"a_sq"},"mark":{"type":"point","shape":"square","filled":true,"size":175,"opacity":1},
     "encoding":{
      "x":{"field":"H","type":"quantitative","scale":{"domain":[-2.05,71.28],"nice":false,"zero":false},
           "axis":{"title":"H (kG)","values":[0,10,20,30,40,50,60,70],"labelExpr":"datum.value % 20 == 0 ? datum.label : ''"}},
      "y":{"field":"v","type":"quantitative","scale":{"domain":[0.0405,0.2262],"nice":false,"zero":false},
           "axis":{"title":"νc (THz)","values":[0.05,0.1,0.15,0.2],"format":".2f"}},
      "color":{"field":"T","type":"nominal","scale":{"domain":["5K","8K","11K","14K","17K","21K","25K","35K","40K","50K","70K","110K"],"range":["#141a6e","#1a33f0","#2a55e8","#40a0f0","#50f0f8","#58e080","#50e030","#c8f090","#f8f030","#f0a020","#f08040","#f01020"]},
        "legend":{"title":null,"orient":"none","legendX":5,"legendY":14,"columns":3,"columnPadding":2,"rowPadding":1,"symbolType":"square","symbolSize":140,"labelOffset":8,"labelFontSize":21}}
     }},
    {"data":{"name":"a_lines"},"transform":[{"filter":"datum.line != 'red'"}],"mark":{"type":"line","color":"#1a2a80","strokeWidth":3.5,"strokeDash":[12,7]},
     "encoding":{"x":{"field":"H","type":"quantitative"},"y":{"field":"v","type":"quantitative"},"detail":{"field":"line"}}},
    {"data":{"name":"a_lines"},"transform":[{"filter":"datum.line == 'red'"}],"mark":{"type":"line","color":"#f02020","strokeWidth":3.5,"strokeDash":[12,7]},
     "encoding":{"x":{"field":"H","type":"quantitative"},"y":{"field":"v","type":"quantitative"}}},
    {"data":{"name":"a_err"},"mark":{"type":"rule","color":"#1a2a80","strokeWidth":2},
     "encoding":{"x":{"field":"H","type":"quantitative"},"y":{"field":"lo","type":"quantitative"},"y2":{"field":"hi"}}},
    {"data":{"name":"a_err"},"mark":{"type":"tick","orient":"horizontal","color":"#1a2a80","thickness":2,"size":10},
     "encoding":{"x":{"field":"H","type":"quantitative"},"y":{"field":"lo","type":"quantitative"}}},
    {"data":{"name":"a_err"},"mark":{"type":"tick","orient":"horizontal","color":"#1a2a80","thickness":2,"size":10},
     "encoding":{"x":{"field":"H","type":"quantitative"},"y":{"field":"hi","type":"quantitative"}}},
    {"data":{"name":"a_err"},"mark":{"type":"point","shape":"square","filled":true,"size":70,"color":"#1a2a80","opacity":1},
     "encoding":{"x":{"field":"H","type":"quantitative"},"y":{"field":"v","type":"quantitative"}}},
    {"data":{"values":[{"H":48.7,"v":0.2105,"t":"H⊥c"}]},"mark":{"type":"text","align":"left","baseline":"middle","fontSize":21,"fontWeight":"bold","color":"#111"},
     "encoding":{"x":{"field":"H","type":"quantitative"},"y":{"field":"v","type":"quantitative"},"text":{"field":"t"}}}
   ]},
  {"width":345,"height":259,
   "title":{"text":"(b)","dx":-84,"dy":22},
   "layer":[
    {"data":{"name":"b_lines"},"transform":[{"filter":"datum.k == 'd'"}],"mark":{"type":"line","strokeWidth":4,"interpolate":"monotone"},
     "encoding":{
      "x":{"field":"nu","type":"quantitative","scale":{"domain":[0.13765,0.27294],"nice":false,"zero":false},
           "axis":{"title":"ν (THz)","titlePadding":5,"values":[0.14,0.15,0.16,0.17,0.18,0.19,0.20,0.21,0.22,0.23,0.24,0.25,0.26,0.27],"format":".2f","labelExpr":"indexof(['0.16','0.20','0.24'], datum.label) >= 0 ? datum.label : ''"}},
      "y":{"field":"y","type":"quantitative","scale":{"domain":[-0.0416,1.1177],"nice":false,"zero":false},
           "axis":{"title":"χ₂ (arb. units)","titlePadding":22,"values":[0,0.1,0.2,0.3,0.4,0.5,0.6,0.7,0.8,0.9,1.0],"format":".1f","labelExpr":"indexof(['0.0','0.2','0.4','0.6','0.8','1.0'], datum.label) >= 0 ? datum.label : ''"}},
      "stroke":{"field":"T","type":"nominal","scale":{"domain":["5 K","8 K","11 K","14 K","17 K","25 K","50 K","70 K","110 K"],"range":["#7a3ce0","#2030b0","#5a6cf0","#40a8e8","#40e8f8","#40cc40","#f0a830","#f0a040","#f02020"]},"legend":null}
     }},
    {"data":{"name":"b_lines"},"transform":[{"filter":"datum.k == 'f'"}],"mark":{"type":"line","strokeWidth":3,"strokeDash":[11,7],"color":"#1a1a1a","interpolate":"monotone"},
     "encoding":{"x":{"field":"nu","type":"quantitative"},"y":{"field":"y","type":"quantitative"},"detail":{"field":"T"}}},
    {"data":{"name":"b_labels"},"mark":{"type":"text","align":"right","baseline":"middle","fontSize":19,"fontWeight":"bold"},
     "encoding":{"x":{"field":"nu","type":"quantitative"},"y":{"field":"y","type":"quantitative"},"text":{"field":"T"},
      "fill":{"field":"T","type":"nominal","scale":{"domain":["5 K","8 K","11 K","14 K","17 K","25 K","50 K","70 K","110 K"],"range":["#4a2a90","#2a3aa0","#6070f0","#40a0d8","#40e8f0","#40c040","#f0b030","#f07040","#e82030"]},"legend":null}}},
    {"data":{"values":[{"nu":0.1395,"y":1.052,"t":"H⊥c, H = 68 kG"}]},"mark":{"type":"text","align":"left","baseline":"middle","fontSize":19,"fontWeight":"bold","color":"#111"},
     "encoding":{"x":{"field":"nu","type":"quantitative"},"y":{"field":"y","type":"quantitative"},"text":{"field":"t"}}}
   ]},
  {"width":342,"height":266,
   "title":{"text":"(c)","dx":-92,"dy":22},
   "layer":[
    {"data":{"name":"c_pts"},"mark":{"type":"point","shape":"cross","filled":true,"size":200,"opacity":1},
     "encoding":{
      "x":{"field":"T","type":"quantitative","scale":{"domain":[-4.55,115],"nice":false,"zero":false},
           "axis":{"title":"Temperature (K)","titlePadding":7,"values":[0,10,20,30,40,50,60,70,80,90,100,110],"labelExpr":"datum.value % 20 == 0 ? datum.label : ''"}},
      "y":{"field":"v","type":"quantitative","scale":{"domain":[0.096,0.2229],"nice":false,"zero":false},
           "axis":{"title":"νc (THz)","titlePadding":17,"values":[0.10,0.11,0.12,0.13,0.14,0.15,0.16,0.17,0.18,0.19,0.20,0.21,0.22],"format":".2f","labelExpr":"indexof(['0.10','0.12','0.14','0.16','0.18','0.20'], datum.label) >= 0 ? datum.label : ''"}},
      "color":{"field":"B","type":"nominal","scale":{"domain":["50kG","55kG","60kG","65kG","68kG"],"range":["#9a1888","#3890d8","#40d070","#c8c828","#f8b848"]},
        "legend":{"title":null,"orient":"none","legendX":134,"legendY":178,"columns":2,"columnPadding":17,"rowPadding":3,"symbolType":"cross","symbolSize":200,"labelOffset":20,"labelFontSize":20}}
     }},
    {"data":{"name":"c_lines"},"transform":[{"filter":"datum.line == '68'"}],"mark":{"type":"line","color":"#f8b848","strokeWidth":3.5,"strokeDash":[12,10]},
     "encoding":{"x":{"field":"T","type":"quantitative"},"y":{"field":"v","type":"quantitative"}}},
    {"data":{"name":"c_lines"},"transform":[{"filter":"datum.line == '50'"}],"mark":{"type":"line","color":"#9a1888","strokeWidth":3.5,"strokeDash":[12,10]},
     "encoding":{"x":{"field":"T","type":"quantitative"},"y":{"field":"v","type":"quantitative"}}},
    {"data":{"values":[{"T":3.5,"v":0.2132,"t":"H⊥c"}]},"mark":{"type":"text","align":"left","baseline":"middle","fontSize":21,"fontWeight":"bold","color":"#111"},
     "encoding":{"x":{"field":"T","type":"quantitative"},"y":{"field":"v","type":"quantitative"},"text":{"field":"t"}}}
   ]},
  {"width":344,"height":264,
   "title":{"text":"(d)","dx":-84,"dy":24},
   "layer":[
    {"data":{"name":"d_lines"},"transform":[{"filter":"datum.k == 'd'"}],"mark":{"type":"line","strokeWidth":4,"interpolate":"monotone"},
     "encoding":{
      "x":{"field":"nu","type":"quantitative","scale":{"domain":[0.19727,0.35364],"nice":false,"zero":false},
           "axis":{"title":"ν (THz)","titlePadding":6,"values":[0.20,0.21,0.22,0.23,0.24,0.25,0.26,0.27,0.28,0.29,0.30,0.31,0.32,0.33,0.34,0.35],"format":".2f","labelExpr":"indexof(['0.20','0.24','0.28','0.32'], datum.label) >= 0 ? datum.label : ''"}},
      "y":{"field":"y","type":"quantitative","scale":{"domain":[-0.0695,0.7387],"nice":false,"zero":false},
           "axis":{"title":"χ₂ (arb. units)","titlePadding":18,"values":[0,0.1,0.2,0.3,0.4,0.5,0.6,0.7],"format":".1f","labelExpr":"indexof(['0.0','0.2','0.4','0.6'], datum.label) >= 0 ? datum.label : ''"}},
      "stroke":{"field":"T","type":"nominal","scale":{"domain":["5 K","8 K","11 K","14 K","17 K","30 K","50 K"],"range":["#8a40e8","#2030b0","#5a6cf0","#40a8e8","#40e8f8","#40cc40","#f0a830"]},"legend":null}
     }},
    {"data":{"name":"d_lines"},"transform":[{"filter":"datum.k == 'f'"}],"mark":{"type":"line","strokeWidth":3,"strokeDash":[11,7],"color":"#1a1a1a","interpolate":"monotone"},
     "encoding":{"x":{"field":"nu","type":"quantitative"},"y":{"field":"y","type":"quantitative"},"detail":{"field":"T"}}},
    {"data":{"name":"d_labels"},"mark":{"type":"text","align":"right","baseline":"middle","fontSize":19,"fontWeight":"bold"},
     "encoding":{"x":{"field":"nu","type":"quantitative"},"y":{"field":"y","type":"quantitative"},"text":{"field":"T"},
      "fill":{"field":"T","type":"nominal","scale":{"domain":["5 K","8 K","11 K","14 K","17 K","30 K","50 K"],"range":["#4a2a90","#2a3aa0","#6070f0","#40a0d8","#40e8f0","#40c040","#f0b030"]},"legend":null}}},
    {"data":{"values":[{"nu":0.2291,"y":0.684,"t":"H||c, H = 65 kG"}]},"mark":{"type":"text","align":"left","baseline":"middle","fontSize":19,"fontWeight":"bold","color":"#111"},
     "encoding":{"x":{"field":"nu","type":"quantitative"},"y":{"field":"y","type":"quantitative"},"text":{"field":"t"}}}
   ]}
]
}
